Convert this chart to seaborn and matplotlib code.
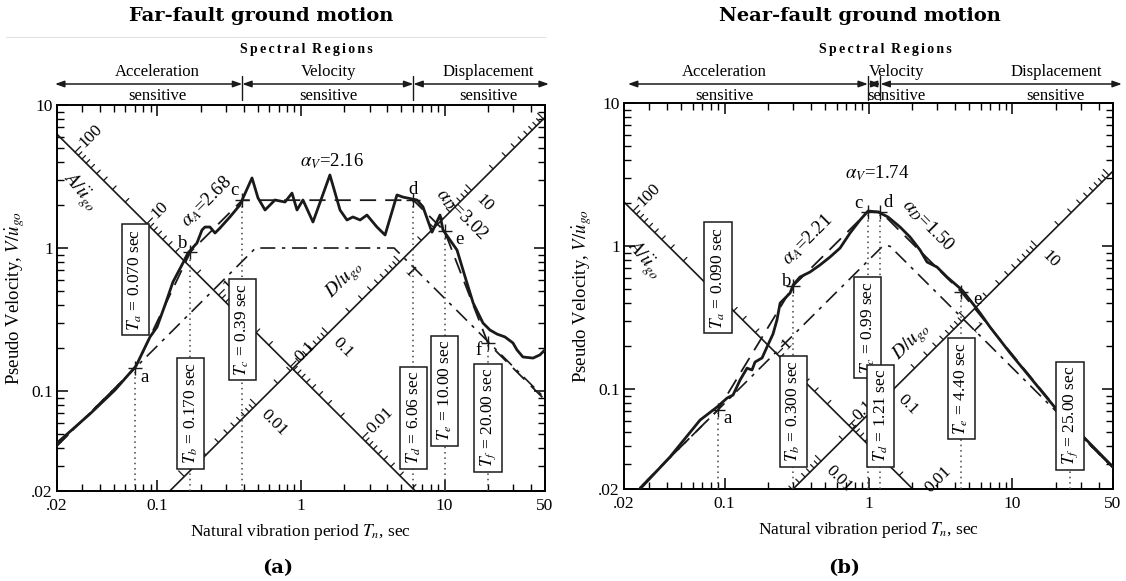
import numpy as np
import matplotlib
matplotlib.use("Agg")
import matplotlib.pyplot as plt
import seaborn as sns
from matplotlib.ticker import FixedLocator, FixedFormatter, LogLocator, NullFormatter
from matplotlib.transforms import blended_transform_factory

# ---------------- far-fault record (panel a) ----------------
far_T = [0.02, 0.0339, 0.0507, 0.071, 0.0889, 0.0994, 0.113, 0.1284, 0.1508, 0.1634,
         0.1887, 0.2045, 0.2146, 0.2325, 0.252, 0.273, 0.320, 0.376, 0.395, 0.456,
         0.502, 0.562, 0.659, 0.774, 0.866, 0.938, 1.032, 1.212, 1.40, 1.59,
         1.87, 2.09, 2.30, 2.58, 2.88, 3.38, 3.85, 4.66, 5.13, 6.42,
         7.07, 8.17, 9.29, 9.75, 12.2, 13.9, 15.8, 18.5, 20.7, 23.2,
         26.3, 29.9, 31.9, 35.1, 41.3, 46.1, 50.0]
far_V = [0.0433, 0.0691, 0.1017, 0.1496, 0.239, 0.280, 0.399, 0.579, 0.786, 0.923,
         1.084, 1.336, 1.402, 1.402, 1.273, 1.38, 1.648, 2.0, 2.24, 3.09,
         2.24, 1.844, 2.166, 2.097, 2.42, 1.844, 2.166, 1.52, 2.27, 3.24,
         1.844, 1.57, 1.648, 1.57, 1.70, 1.402, 1.233, 2.35, 2.27, 2.166,
         1.94, 1.29, 1.70, 1.336, 0.968, 0.627, 0.413, 0.299, 0.267, 0.250,
         0.239, 0.217, 0.194, 0.173, 0.170, 0.179, 0.194]
# idealized spectrum: corner points a-f
far_corner_T = [0.070, 0.170, 0.39, 6.06, 10.00, 20.00]
far_corner_V = [0.145, 0.94, 2.16, 2.16, 1.31, 0.217]
far_corner_txt = ["0.070", "0.170", "0.39", "6.06", "10.00", "20.00"]
far_ends_V = [0.0414, 0.0867]          # idealized spectrum at T = .02 s and 50 s
# ground-motion envelope (dash-dot)
far_ground_T = [0.02, 0.483, 4.45, 50.0]
far_ground_V = [0.0414, 1.0, 1.0, 0.089]
far_alpha = [2.68, 2.16, 3.02]

# ---------------- near-fault record (panel b) ----------------
near_T = [0.0258, 0.0417, 0.0675, 0.0886, 0.104, 0.1144, 0.128, 0.1431, 0.155, 0.1627,
          0.182, 0.197, 0.217, 0.231, 0.243, 0.285, 0.299, 0.334, 0.392, 0.46,
          0.540, 0.634, 0.744, 0.873, 0.992, 1.164, 1.366, 1.656, 1.942, 2.28,
          2.55, 2.99, 3.51, 4.47, 5.07, 5.96, 6.99, 9.62, 20.4, 50.0]
near_V = [0.02, 0.0335, 0.0607, 0.0749, 0.0865, 0.0908, 0.1156, 0.140, 0.136, 0.1545,
          0.165, 0.197, 0.243, 0.304, 0.399, 0.469, 0.534, 0.607, 0.658, 0.737,
          0.838, 0.968, 1.233, 1.52, 1.757, 1.73, 1.596, 1.358, 1.156, 0.938,
          0.773, 0.713, 0.607, 0.492, 0.419, 0.340, 0.271, 0.179, 0.0714, 0.0285]
near_corner_T = [0.090, 0.300, 0.99, 1.21, 4.40, 25.00]
near_corner_V = [0.0716, 0.527, 1.74, 1.74, 0.478, 0.0562]
near_corner_txt = ["0.090", "0.300", "0.99", "1.21", "4.40", "25.00"]
near_ends_V = [0.0159, 0.0281]
near_ground_T = [0.02, 1.257, 1.404, 50.0]
near_ground_V = [0.0159, 1.0, 1.0, 0.0281]
near_alpha = [2.21, 1.74, 1.50]

# ---------------- shared labels ----------------
point_names = ["a", "b", "c", "d", "e", "f"]
x_ticks = [0.02, 0.1, 1, 10, 50]
x_ticklabels = [".02", "0.1", "1", "10", "50"]
y_ticks = [0.02, 0.1, 1, 10]
y_ticklabels = [".02", "0.1", "1", "10"]
a_scale_values = [100, 10, 1, 0.1, 0.01]
a_scale_labels = ["100", "10", "1", "0.1", "0.01"]
d_scale_values = [0.01, 0.1, 1, 10]
d_scale_labels = ["0.01", "0.1", "1", "10"]
region_names = [("Acceleration", "sensitive"), ("Velocity", "sensitive"), ("Displacement", "sensitive")]

T_MIN, T_MAX, V_MIN, V_MAX = 0.02, 50.0, 0.02, 10.0
FIG_W, FIG_H, DPI = 11.26, 5.81, 100

sns.set_theme(style="ticks")
plt.rcParams.update({
    "font.family": ["Liberation Serif", "DejaVu Serif"],
    "mathtext.fontset": "stix",
    "axes.linewidth": 1.4,
    "axes.edgecolor": "black",
    "text.color": "black",
    "axes.labelcolor": "black",
    "xtick.color": "black", "ytick.color": "black",
    "xtick.direction": "in", "ytick.direction": "in",
    "xtick.top": True, "ytick.right": True,
    "xtick.major.size": 8, "ytick.major.size": 8,
    "xtick.minor.size": 5, "ytick.minor.size": 5,
    "xtick.major.width": 1.1, "ytick.major.width": 1.1,
    "xtick.minor.width": 1.0, "ytick.minor.width": 1.0,
    "xtick.labelsize": 12.5, "ytick.labelsize": 12.5,
})

fig = plt.figure(figsize=(FIG_W, FIG_H), dpi=DPI)
fig.patch.set_facecolor("white")

panels = [
    dict(ax_rect=[0.0506, 0.1549, 0.4334, 0.6644],
         T=far_T, V=far_V, cT=far_corner_T, cV=far_corner_V, ctxt=far_corner_txt,
         ends=far_ends_V, gT=far_ground_T, gV=far_ground_V, alpha=far_alpha,
         a_vt=0.125, a_t1=0.267, d_vt=0.164, d_t1=4.87,
         letters=6,
         letter_off=[(9, -10), (-8, 8), (-8, 10), (0, 11), (15, -8), (-9, -8)],
         alpha_pos=[(0.307, 0.749, 45), (0.564, 0.855, 0), (0.830, 0.718, -45)],
         a_name=(0.045, 0.775, -50), d_name=(0.590, 0.547, 45),
         arrow_span=(-0.004, 1.008), sr_x=0.512,
         title="Far-fault ground motion", title_x=261 / 1126, tag="(a)", tag_x=278 / 1126),
    dict(ax_rect=[0.5542, 0.1583, 0.4343, 0.6644],
         T=near_T, V=near_V, cT=near_corner_T, cV=near_corner_V, ctxt=near_corner_txt,
         ends=near_ends_V, gT=near_ground_T, gV=near_ground_V, alpha=near_alpha,
         a_vt=0.0406, a_t1=0.231, d_vt=0.0669, d_t1=4.68,
         letters=5,
         letter_off=[(10, -9), (-7, 4), (-9, 8), (8, 9), (16, -8), (-9, -8)],
         alpha_pos=[(0.376, 0.645, 45), (0.517, 0.819, 0), (0.622, 0.684, -45)],
         a_name=(0.040, 0.594, -50), d_name=(0.589, 0.381, 45),
         arrow_span=(0.008, 1.018), sr_x=0.534,
         title="Near-fault ground motion", title_x=860 / 1126, tag="(b)", tag_x=844 / 1126),
]

box_yfrac = [0.548, 0.201, 0.419, 0.190, 0.260, 0.190]
alpha_names = ["A", "V", "D"]
region_x = [0.205, 0.557, 0.883]
HAIR = "\u200a"


def fy(px):
    """figure fraction for a pixel row measured from the top"""
    return 1 - px / (FIG_H * DPI)


for P in panels:
    ax = fig.add_axes(P["ax_rect"])
    ax.set_xscale("log")
    ax.set_yscale("log")
    ax.set_xlim(T_MIN, T_MAX)
    ax.set_ylim(V_MIN, V_MAX)
    ax.set_facecolor("white")

    bb = ax.get_position()
    kx = np.log10(T_MAX / T_MIN) / (bb.width * FIG_W * DPI)
    ky = np.log10(V_MAX / V_MIN) / (bb.height * FIG_H * DPI)

    def shift(T, V, dx, dy):
        return T * 10 ** (dx * kx), V * 10 ** (dy * ky)

    # tripartite guide lines
    Tl = np.array([T_MIN, T_MAX])
    ax.plot(Tl, P["a_vt"] / Tl, color="k", lw=1.2, zorder=2)
    ax.plot(Tl, P["d_vt"] * Tl, color="k", lw=1.2, zorder=2)
    r2 = np.sqrt(2)
    for dec in range(-3, 4):
        for k in range(1, 10):
            L = 8 if k == 1 else 5
            a = k * 10.0 ** dec
            T = P["a_t1"] / np.sqrt(a)
            V = P["a_vt"] / T
            T2, V2 = shift(T, V, L / r2, L / r2)
            ax.plot([T, T2], [V, V2], color="k", lw=0.9, zorder=2)
            d = k * 10.0 ** dec
            T = P["d_t1"] * np.sqrt(d)
            V = P["d_vt"] * T
            T2, V2 = shift(T, V, -L / r2, L / r2)
            ax.plot([T, T2], [V, V2], color="k", lw=0.9, zorder=2)
    for val, lab in zip(a_scale_values, a_scale_labels):
        T = P["a_t1"] / np.sqrt(val)
        V = P["a_vt"] / T
        Tt, Vt = shift(T, V, 7, 7)
        ax.text(Tt, Vt, lab, rotation=45, rotation_mode="anchor", ha="left", va="center",
                fontsize=12.5, zorder=3, clip_on=False)
    for val, lab in zip(d_scale_values, d_scale_labels):
        T = P["d_t1"] * np.sqrt(val)
        V = P["d_vt"] * T
        Tt, Vt = shift(T, V, 7, -7)
        ax.text(Tt, Vt, lab, rotation=-45, rotation_mode="anchor", ha="left", va="center",
                fontsize=12.5, zorder=3, clip_on=False)
    x, y, rot = P["a_name"]
    ax.text(x, y, r"$A/\ddot{u}_{go}$", transform=ax.transAxes, rotation=rot,
            ha="center", va="center", fontsize=14, zorder=3)
    x, y, rot = P["d_name"]
    ax.text(x, y, r"$D/u_{go}$", transform=ax.transAxes, rotation=rot,
            ha="center", va="center", fontsize=14, zorder=3)

    # spectra
    ideal_T = [T_MIN] + P["cT"] + [T_MAX]
    ideal_V = [P["ends"][0]] + P["cV"] + [P["ends"][1]]
    sns.lineplot(x=P["gT"], y=P["gV"], ax=ax, color="k", lw=1.2, sort=False,
                 estimator=None, linestyle=(0, (9, 4, 2, 4)), zorder=3)
    sns.lineplot(x=ideal_T, y=ideal_V, ax=ax, color="k", lw=1.3, sort=False,
                 estimator=None, linestyle=(0, (9, 5)), zorder=3)
    sns.lineplot(x=P["T"], y=P["V"], ax=ax, color="k", lw=2.0, sort=False,
                 estimator=None, zorder=4)

    # corner periods
    ax.plot(P["cT"], P["cV"], "+", color="k", ms=10, mew=1.0, zorder=5)
    for i, (T, V) in enumerate(zip(P["cT"], P["cV"])):
        ax.plot([T, T], [V_MIN, V], color="#444444", lw=1.1, ls=(0, (1, 2.5)), zorder=3)
        if i < P["letters"]:
            dx, dy = P["letter_off"][i]
            ax.annotate(point_names[i], (T, V), xytext=(dx, dy), textcoords="offset pixels",
                        ha="center", va="center", fontsize=13.5, zorder=5)
    bt = blended_transform_factory(ax.transData, ax.transAxes)
    for i, T in enumerate(P["cT"]):
        ax.text(T, box_yfrac[i], rf"$T_{{{point_names[i]}}}$ = {P['ctxt'][i]} sec",
                transform=bt, rotation=90, ha="center", va="center", fontsize=12.5,
                bbox=dict(boxstyle="square,pad=0.25", fc="white", ec="k", lw=1.1), zorder=7)

    # amplification factors
    for (x, y, rot), nm, val in zip(P["alpha_pos"], alpha_names, P["alpha"]):
        ax.text(x, y, rf"$\alpha_{{{nm}}}$={val:.2f}", transform=ax.transAxes, rotation=rot,
                ha="center", va="center", fontsize=13.5, zorder=6)

    # axes decoration
    ax.xaxis.set_major_locator(FixedLocator(x_ticks))
    ax.xaxis.set_major_formatter(FixedFormatter(x_ticklabels))
    ax.yaxis.set_major_locator(FixedLocator(y_ticks))
    ax.yaxis.set_major_formatter(FixedFormatter(y_ticklabels))
    ax.xaxis.set_minor_locator(LogLocator(base=10, subs=np.arange(2, 10)))
    ax.yaxis.set_minor_locator(LogLocator(base=10, subs=np.arange(2, 10)))
    ax.xaxis.set_minor_formatter(NullFormatter())
    ax.yaxis.set_minor_formatter(NullFormatter())
    ax.tick_params(which="both", top=True, right=True, direction="in")
    ax.tick_params(axis="x", pad=5)
    ax.tick_params(axis="y", pad=3)
    ax.set_xlabel(r"Natural vibration period $T_n$, sec", fontsize=12.5, labelpad=6)
    ax.set_ylabel(r"Pseudo Velocity, $V/\dot{u}_{go}$", fontsize=13.5, labelpad=2)
    for s in ax.spines.values():
        s.set_visible(True)
        s.set_linewidth(1.4)

    # spectral regions header
    hb = blended_transform_factory(ax.transData, fig.transFigure)
    ha_ = blended_transform_factory(ax.transAxes, fig.transFigure)
    l_T = T_MIN * (T_MAX / T_MIN) ** P["arrow_span"][0]
    r_T = T_MIN * (T_MAX / T_MIN) ** P["arrow_span"][1]
    bounds = [l_T, P["cT"][2], P["cT"][3], r_T]
    y_arrow = fy(84)
    for t0, t1 in zip(bounds[:-1], bounds[1:]):
        ax.annotate("", xy=(t1, y_arrow), xycoords=hb, xytext=(t0, y_arrow), textcoords=hb,
                    arrowprops=dict(arrowstyle="<|-|>,head_length=0.45,head_width=0.16",
                                    color="k", lw=1.1, shrinkA=0, shrinkB=0),
                    annotation_clip=False)
    for t in bounds[1:3]:
        ax.plot([t, t], [fy(76), fy(100)], transform=hb, color="k", lw=1.0, clip_on=False)
    for xr, (top, bottom) in zip(region_x, region_names):
        ax.text(xr, fy(72), top, transform=ha_, ha="center", va="center", fontsize=12)
        ax.text(xr, fy(96), bottom, transform=ha_, ha="center", va="center", fontsize=12)
    header = (HAIR * 2).join("Spectral") + HAIR * 6 + (HAIR * 2).join("Regions")
    ax.text(P["sr_x"], fy(50), header, transform=ha_,
            ha="center", va="center", fontsize=10, fontweight="bold")

    fig.text(P["title_x"], fy(16), P["title"], ha="center", va="center",
             fontsize=14, fontweight="bold", family="DejaVu Serif")
    fig.text(P["tag_x"], fy(568), P["tag"], ha="center", va="center",
             fontsize=14, fontweight="bold", family="DejaVu Serif")

fig.add_artist(plt.Line2D([0.005, 0.485], [fy(37), fy(37)], color="#e4e4e4", lw=0.8))

fig.savefig("out.png", dpi=DPI, facecolor="white")
